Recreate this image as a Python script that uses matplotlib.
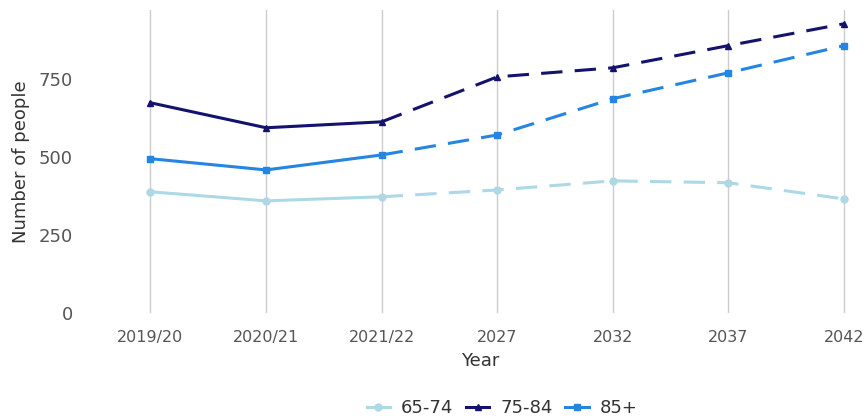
import numpy as np
import matplotlib.pyplot as plt

plt.rcParams['font.family'] = ['DejaVu Sans']

years = ['2019/20', '2020/21', '2021/22', '2027', '2032', '2037', '2042']
age_65_74 = [388, 359, 372, 394, 423, 417, 365]
age_75_84 = [673, 593, 612, 756, 785, 856, 926]
age_85_plus = [494, 458, 506, 570, 686, 769, 856]
n_actual = 3  # first three points are recorded, rest projected

series = [
    ('65-74', age_65_74, '#add8e6', 'o'),
    ('75-84', age_75_84, '#13126e', '^'),
    ('85+', age_85_plus, '#2585e0', 's'),
]

fig = plt.figure(figsize=(8.66, 4.2), dpi=100)
ax = fig.add_axes([95 / 866, 1 - 313 / 420, 771 / 866, 303 / 420])

x = np.arange(len(years))
handles = []
for name, vals, col, mk in series:
    h, = ax.plot(x[:n_actual], vals[:n_actual], color=col, lw=2.2, marker=mk, ms=5,
                 label=name)
    ax.plot(x[n_actual - 1:], vals[n_actual - 1:], color=col, lw=2.2, ls=(0, (7, 4)),
            marker=mk, ms=5, markevery=list(range(1, len(years) - n_actual + 1)))
    handles.append(h)

ax.set_xlim(-0.48, 6.19)
ax.set_ylim(0, 970)
ax.set_xticks(x)
ax.set_xticklabels(years, fontsize=11.5, color='#555555')
ax.set_yticks([0, 250, 500, 750])
ax.tick_params(axis='y', labelsize=13, labelcolor='#555555', length=0, pad=16)
ax.tick_params(axis='x', length=0, pad=12)
ax.grid(axis='x', color='#cccccc', lw=1)
ax.set_axisbelow(True)
for s in ax.spines.values():
    s.set_visible(False)

ax.set_xlabel('Year', fontsize=13, color='#333333', labelpad=5)
ax.set_ylabel('Number of people', fontsize=13, color='#333333', labelpad=6)

fig.legend(handles=handles, loc='center', bbox_to_anchor=(502 / 866, 1 - 408 / 420),
           ncol=3, frameon=False, fontsize=13, handlelength=1.3, handletextpad=0.6,
           columnspacing=0.7, labelcolor='#333333')

fig.savefig('out.png', dpi=100)
